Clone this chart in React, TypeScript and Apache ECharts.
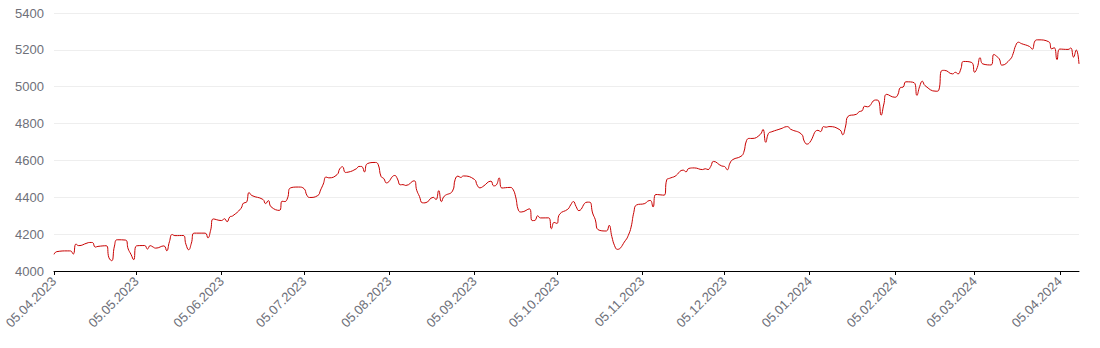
import React, { useEffect, useRef } from "react";
import * as echarts from "echarts";

// S&P 500 daily closes, 05.04.2023 – 12.04.2024
const dates: string[] = [
  "2023-04-05","2023-04-06","2023-04-10","2023-04-11","2023-04-12","2023-04-13","2023-04-14",
  "2023-04-17","2023-04-18","2023-04-19","2023-04-20","2023-04-21","2023-04-24","2023-04-25",
  "2023-04-26","2023-04-27","2023-04-28","2023-05-01","2023-05-02","2023-05-03","2023-05-04",
  "2023-05-05","2023-05-08","2023-05-09","2023-05-10","2023-05-11","2023-05-12","2023-05-15",
  "2023-05-16","2023-05-17","2023-05-18","2023-05-19","2023-05-22","2023-05-23","2023-05-24",
  "2023-05-25","2023-05-26","2023-05-30","2023-05-31","2023-06-01","2023-06-02","2023-06-05",
  "2023-06-06","2023-06-07","2023-06-08","2023-06-09","2023-06-12","2023-06-13","2023-06-14",
  "2023-06-15","2023-06-16","2023-06-20","2023-06-21","2023-06-22","2023-06-23","2023-06-26",
  "2023-06-27","2023-06-28","2023-06-29","2023-06-30","2023-07-03","2023-07-05","2023-07-06",
  "2023-07-07","2023-07-10","2023-07-11","2023-07-12","2023-07-13","2023-07-14","2023-07-17",
  "2023-07-18","2023-07-19","2023-07-20","2023-07-21","2023-07-24","2023-07-25","2023-07-26",
  "2023-07-27","2023-07-28","2023-07-31","2023-08-01","2023-08-02","2023-08-03","2023-08-04",
  "2023-08-07","2023-08-08","2023-08-09","2023-08-10","2023-08-11","2023-08-14","2023-08-15",
  "2023-08-16","2023-08-17","2023-08-18","2023-08-21","2023-08-22","2023-08-23","2023-08-24",
  "2023-08-25","2023-08-28","2023-08-29","2023-08-30","2023-08-31","2023-09-01","2023-09-05",
  "2023-09-06","2023-09-07","2023-09-08","2023-09-11","2023-09-12","2023-09-13","2023-09-14",
  "2023-09-15","2023-09-18","2023-09-19","2023-09-20","2023-09-21","2023-09-22","2023-09-25",
  "2023-09-26","2023-09-27","2023-09-28","2023-09-29","2023-10-02","2023-10-03","2023-10-04",
  "2023-10-05","2023-10-06","2023-10-09","2023-10-10","2023-10-11","2023-10-12","2023-10-13",
  "2023-10-16","2023-10-17","2023-10-18","2023-10-19","2023-10-20","2023-10-23","2023-10-24",
  "2023-10-25","2023-10-26","2023-10-27","2023-10-30","2023-10-31","2023-11-01","2023-11-02",
  "2023-11-03","2023-11-06","2023-11-07","2023-11-08","2023-11-09","2023-11-10","2023-11-13",
  "2023-11-14","2023-11-15","2023-11-16","2023-11-17","2023-11-20","2023-11-21","2023-11-22",
  "2023-11-24","2023-11-27","2023-11-28","2023-11-29","2023-11-30","2023-12-01","2023-12-04",
  "2023-12-05","2023-12-06","2023-12-07","2023-12-08","2023-12-11","2023-12-12","2023-12-13",
  "2023-12-14","2023-12-15","2023-12-18","2023-12-19","2023-12-20","2023-12-21","2023-12-22",
  "2023-12-26","2023-12-27","2023-12-28","2023-12-29","2024-01-02","2024-01-03","2024-01-04",
  "2024-01-05","2024-01-08","2024-01-09","2024-01-10","2024-01-11","2024-01-12","2024-01-16",
  "2024-01-17","2024-01-18","2024-01-19","2024-01-22","2024-01-23","2024-01-24","2024-01-25",
  "2024-01-26","2024-01-29","2024-01-30","2024-01-31","2024-02-01","2024-02-02","2024-02-05",
  "2024-02-06","2024-02-07","2024-02-08","2024-02-09","2024-02-12","2024-02-13","2024-02-14",
  "2024-02-15","2024-02-16","2024-02-20","2024-02-21","2024-02-22","2024-02-23","2024-02-26",
  "2024-02-27","2024-02-28","2024-02-29","2024-03-01","2024-03-04","2024-03-05","2024-03-06",
  "2024-03-07","2024-03-08","2024-03-11","2024-03-12","2024-03-13","2024-03-14","2024-03-15",
  "2024-03-18","2024-03-19","2024-03-20","2024-03-21","2024-03-22","2024-03-25","2024-03-26",
  "2024-03-27","2024-03-28","2024-04-01","2024-04-02","2024-04-03","2024-04-04","2024-04-05",
  "2024-04-08","2024-04-09","2024-04-10","2024-04-11","2024-04-12",
];

const closes: number[] = [
  4090.38,4105.02,4109.11,4108.94,4091.95,4146.22,4137.64,
  4151.32,4154.87,4154.52,4129.79,4133.52,4137.04,4071.63,
  4055.99,4135.35,4169.48,4167.87,4119.58,4090.75,4061.22,
  4136.25,4138.12,4119.17,4137.64,4130.62,4124.08,4136.28,
  4109.90,4158.77,4198.05,4191.98,4192.63,4145.58,4115.24,
  4151.28,4205.45,4205.52,4179.83,4221.02,4282.37,4273.79,
  4283.85,4267.52,4293.93,4298.86,4338.93,4369.01,4372.59,
  4425.84,4409.59,4388.71,4365.69,4381.89,4348.33,4328.82,
  4378.41,4376.86,4396.44,4450.38,4455.59,4446.82,4411.59,
  4398.95,4409.53,4439.26,4472.16,4510.04,4505.42,4522.79,
  4554.98,4565.72,4534.87,4536.34,4554.64,4567.46,4566.75,
  4537.41,4582.23,4588.96,4576.73,4513.39,4501.89,4478.03,
  4518.44,4499.38,4467.71,4468.83,4464.05,4489.72,4437.86,
  4404.33,4370.36,4369.71,4399.77,4387.55,4436.01,4376.31,
  4405.71,4433.31,4497.63,4514.87,4507.66,4515.77,4496.83,
  4465.48,4451.14,4457.49,4487.46,4461.90,4467.44,4505.10,
  4450.32,4453.53,4443.95,4402.20,4330.00,4320.06,4337.44,
  4273.53,4274.51,4299.70,4288.05,4288.39,4229.45,4263.75,
  4258.19,4308.50,4335.66,4358.24,4376.95,4349.61,4327.78,
  4373.63,4373.20,4314.60,4278.00,4224.16,4217.04,4247.68,
  4186.77,4137.23,4117.37,4166.82,4193.80,4237.86,4317.78,
  4358.34,4365.98,4378.38,4382.78,4347.35,4415.24,4411.55,
  4495.70,4502.88,4508.24,4514.02,4547.38,4538.19,4556.62,
  4559.34,4550.43,4554.89,4550.58,4567.80,4594.63,4569.78,
  4567.18,4549.34,4585.59,4604.37,4622.44,4643.70,4707.09,
  4719.55,4719.19,4740.56,4768.37,4698.35,4746.75,4754.63,
  4774.75,4781.58,4783.35,4769.83,4742.83,4704.81,4688.68,
  4697.24,4763.54,4756.50,4783.45,4780.24,4783.83,4765.98,
  4739.21,4780.94,4839.81,4850.43,4864.60,4868.55,4894.16,
  4890.97,4927.93,4924.97,4845.65,4906.19,4958.61,4942.81,
  4954.23,4995.06,4997.91,5026.61,5021.84,4953.17,5000.62,
  5029.73,5005.57,4975.51,4981.80,5087.03,5088.80,5069.53,
  5078.18,5069.76,5096.27,5137.08,5130.95,5078.65,5104.76,
  5157.36,5123.69,5117.94,5175.27,5165.31,5150.48,5117.09,
  5149.42,5178.51,5224.62,5241.53,5234.18,5218.19,5203.58,
  5248.49,5254.35,5243.77,5205.81,5211.49,5147.21,5204.34,
  5202.39,5209.91,5160.64,5199.06,5123.41,
];

// x tick positions: the 5th of each month
const tickDates: string[] = [
  "2023-04-05","2023-05-05","2023-06-05","2023-07-05","2023-08-05","2023-09-05","2023-10-05",
  "2023-11-05","2023-12-05","2024-01-05","2024-02-05","2024-03-05","2024-04-05",
];

const yMin = 4000;
const yMax = 5400;
const yStep = 200;

const toTs = (s: string) => {
  const [y, m, d] = s.split("-").map(Number);
  return Date.UTC(y, m - 1, d);
};

const pad = (n: number) => (n < 10 ? "0" + n : "" + n);
const fmt = (v: number) => {
  const d = new Date(v);
  return pad(d.getUTCDate()) + "." + pad(d.getUTCMonth() + 1) + "." + d.getUTCFullYear();
};

export default function App() {
  const ref = useRef<HTMLDivElement>(null);
  useEffect(() => {
    document.body.style.margin = "0";
    if (!ref.current) return;
    const chart = echarts.init(ref.current, undefined, { renderer: "svg" });
    const ticks = tickDates.map(toTs);
    const data = dates.map((d, i) => [toTs(d), closes[i]]);
    chart.setOption({
      animation: false,
      textStyle: { fontFamily: "Liberation Sans, Arial, sans-serif" },
      grid: { left: 54, right: 21, top: 13, bottom: 77, containLabel: false },
      xAxis: {
        type: "value",
        min: toTs(dates[0]),
        max: toTs(dates[dates.length - 1]),
        scale: true,
        axisLine: { show: true, onZero: false, lineStyle: { color: "#000", width: 1 } },
        axisTick: { show: true, customValues: ticks, length: 4, lineStyle: { color: "#000" } },
        axisLabel: {
          customValues: ticks,
          rotate: 45,
          color: "#6e7079",
          fontSize: 13,
          margin: 8,
          fontFamily: "Liberation Sans, Arial, sans-serif",
          formatter: (v: number) => fmt(v),
        },
        splitLine: { show: false },
      },
      yAxis: {
        type: "value",
        min: yMin,
        max: yMax,
        interval: yStep,
        axisLine: { show: false },
        axisTick: { show: false },
        axisLabel: {
          color: "#6e7079",
          fontSize: 13,
          margin: 10,
          fontFamily: "Liberation Sans, Arial, sans-serif",
          formatter: (v: number) => String(v),
        },
        splitLine: { show: true, lineStyle: { color: "#eeeeee", width: 1 } },
      },
      series: [
        {
          type: "line",
          data,
          smooth: true,
          showSymbol: false,
          symbol: "none",
          lineStyle: { color: "#c80000", width: 1 },
        },
      ],
    });
    return () => chart.dispose();
  }, []);
  return <div ref={ref} style={{ width: 1100, height: 348 }} />;
}
